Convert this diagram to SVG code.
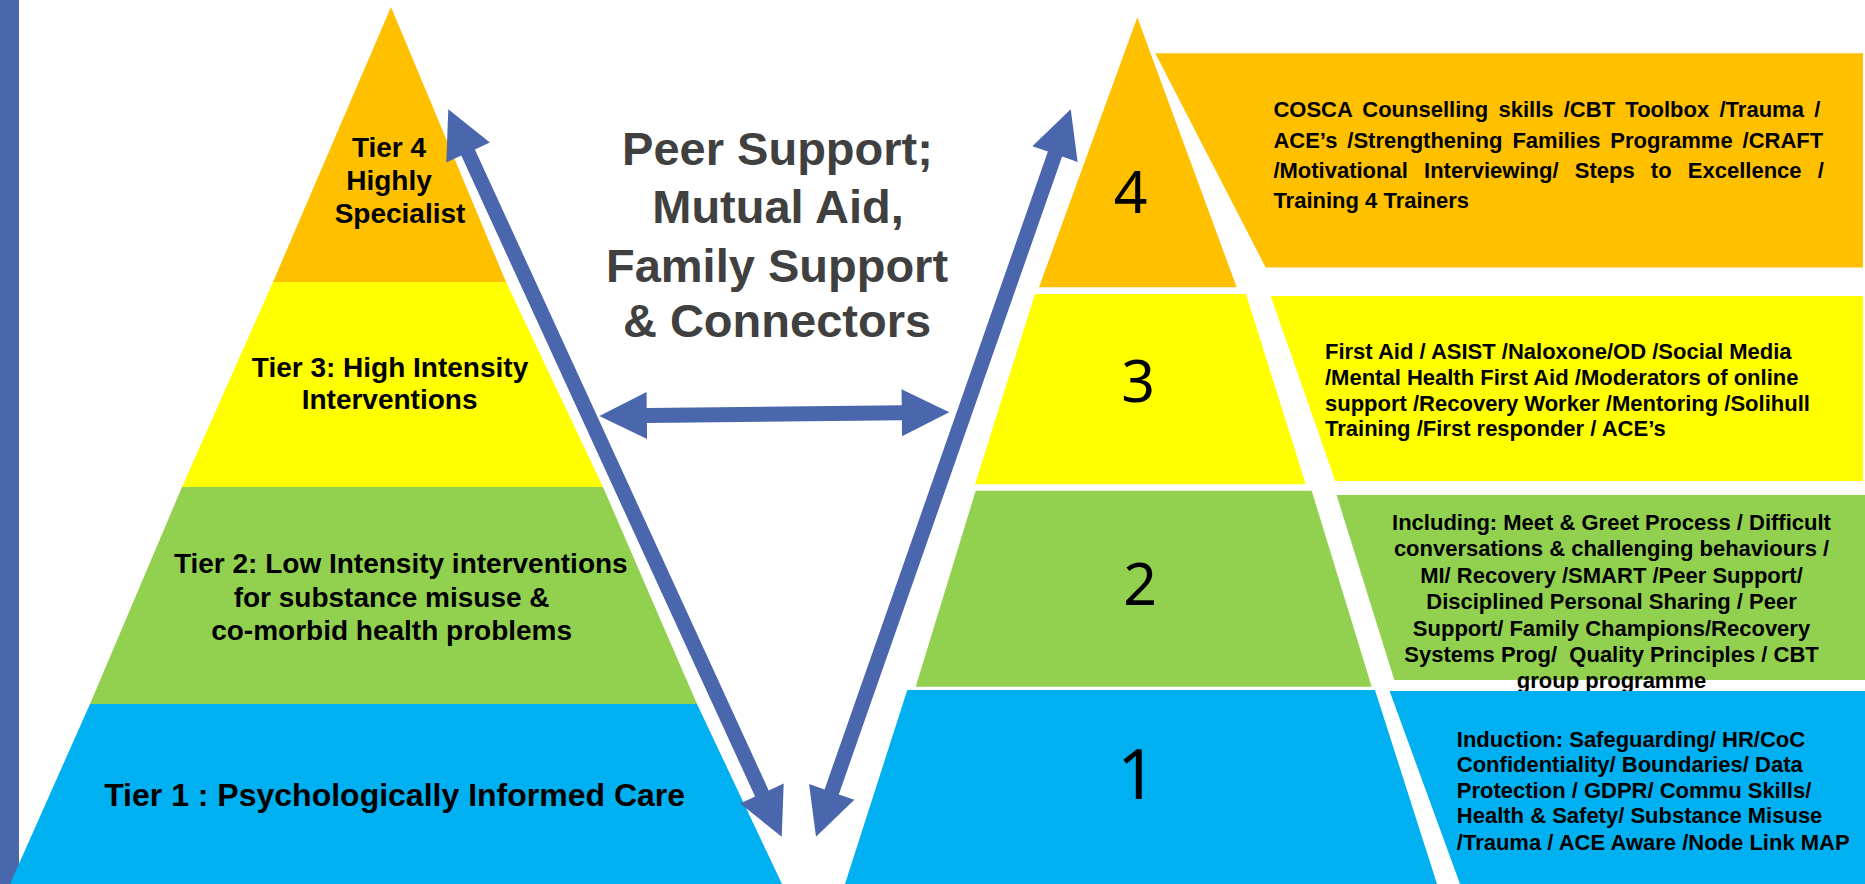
<svg xmlns="http://www.w3.org/2000/svg" width="1865" height="884" viewBox="0 0 1865 884">
<style>
.t{font-family:"Liberation Sans",Arial,sans-serif;font-weight:bold;fill:#000}
.lt{font-size:28px;text-anchor:middle}
.big{font-size:32px;text-anchor:middle}
.bx{font-size:22px}
.mid{text-anchor:middle}
.title{font-size:47px;fill:#404040;text-anchor:middle}
.num{font-family:"Noto Sans","Open Sans",sans-serif;font-size:59px;fill:#000;text-anchor:middle}
.c4{fill:#FFC000}.c3{fill:#FFFF00}.c2{fill:#92D050}.c1{fill:#00B0F0}
.arrow{fill:#4A67AD}
</style>
<g id="sidebar"><rect x="0" y="0" width="19" height="884" class="arrow"/></g>

<g id="left-tier4">
<polygon class="c4" points="391,7 506,282 273,282"/>
<text class="t lt" x="389" y="156.7">Tier 4</text>
<text class="t lt" x="389" y="190">Highly</text>
<text class="t lt" x="400" y="223.3">Specialist</text>
</g>
<g id="left-tier3">
<polygon class="c3" points="273,282 506,282 603,487 182,487"/>
<text class="t lt" x="390" y="376.7">Tier 3: High Intensity</text>
<text class="t lt" x="389.6" y="409">Interventions</text>
</g>
<g id="left-tier2">
<polygon class="c2" points="182,487 603,487 697,704 90,704"/>
<text class="t lt" x="400.8" y="572.5">Tier 2: Low Intensity interventions</text>
<text class="t lt" x="391.6" y="606.5">for substance misuse &amp;</text>
<text class="t lt" x="391.6" y="639.5">co-morbid health problems</text>
</g>
<g id="left-tier1">
<polygon class="c1" points="90,704 697,704 782,884 10,884"/>
<text class="t big" x="394.6" y="806">Tier 1 : Psychologically Informed Care</text>
</g>

<g id="title">
<text class="t title" x="777.5" y="165">Peer Support;</text>
<text class="t title" x="778" y="222.7">Mutual Aid,</text>
<text class="t title" x="777" y="281.7">Family Support</text>
<text class="t title" x="777" y="337">&amp; Connectors</text>
</g>

<g id="right-tier4">
<polygon class="c4" points="1137.3,17.3 1236.7,287.3 1039,287.3"/>
<text class="num" x="1130.5" y="213.3">4</text>
</g>
<g id="right-tier3">
<polygon class="c3" points="1035,294 1246,294 1305.7,484.3 975,484.3"/>
<text class="num" x="1138" y="401.7">3</text>
</g>
<g id="right-tier2">
<polygon class="c2" points="975.7,490.7 1311.7,490.7 1371.7,686.7 915.7,686.7"/>
<text class="num" x="1140" y="605">2</text>
</g>
<g id="right-tier1">
<polygon class="c1" points="907.3,690 1375,690 1437,884 845,884"/>
<text class="num" x="1137" y="799.3" style="font-size:69px">1</text>
</g>

<g id="box4">
<polygon class="c4" points="1155.3,53.3 1863,53.3 1863,267.5 1265.7,267.5"/>
<text class="t bx" x="1273.4" y="117" word-spacing="4.15">COSCA Counselling skills /CBT Toolbox /Trauma /</text>
<text class="t bx" x="1273.4" y="147.5" word-spacing="3.8">ACE’s /Strengthening Families Programme /CRAFT</text>
<text class="t bx" x="1273.4" y="178" word-spacing="10.1">/Motivational Interviewing/ Steps to Excellence /</text>
<text class="t bx" x="1273.4" y="207.5">Training 4 Trainers</text>
</g>
<g id="box3">
<polygon class="c3" points="1270.7,296 1863,296 1863,481 1335.2,481"/>
<text class="t bx" x="1325" y="359.3">First Aid / ASIST /Naloxone/OD /Social Media</text>
<text class="t bx" x="1325" y="385">/Mental Health First Aid /Moderators of online</text>
<text class="t bx" x="1325" y="410.5">support /Recovery Worker /Mentoring /Solihull</text>
<text class="t bx" x="1325" y="436.3">Training /First responder / ACE’s</text>
</g>
<g id="box2">
<polygon class="c2" points="1336.6,495 1865,495 1865,680 1394.3,680"/>
<text class="t bx mid" x="1611.5" y="530">Including: Meet &amp; Greet Process / Difficult</text>
<text class="t bx mid" x="1611.5" y="556.3">conversations &amp; challenging behaviours /</text>
<text class="t bx mid" x="1611.5" y="582.7">MI/ Recovery /SMART /Peer Support/</text>
<text class="t bx mid" x="1611.5" y="609">Disciplined Personal Sharing / Peer</text>
<text class="t bx mid" x="1611.5" y="635.5">Support/ Family Champions/Recovery</text>
<text class="t bx mid" x="1611.5" y="662">Systems Prog/ &#160;Quality Principles / CBT</text>
<text class="t bx mid" x="1611.5" y="688.3">group programme</text>
</g>
<g id="box1">
<polygon class="c1" points="1389.6,691 1865,691 1865,884 1460,884"/>
<text class="t bx" x="1456.8" y="746.8">Induction: Safeguarding/ HR/CoC</text>
<text class="t bx" x="1456.8" y="772">Confidentiality/ Boundaries/ Data</text>
<text class="t bx" x="1456.8" y="797.5">Protection / GDPR/ Commu Skills/</text>
<text class="t bx" x="1456.8" y="823.3">Health &amp; Safety/ Substance Misuse</text>
<text class="t bx" x="1456.8" y="849.5">/Trauma / ACE Aware /Node Link MAP</text>
</g>

<g id="connectors">
<path class="arrow" d="M448.3,109.3 L489.9,142.5 L474.9,149.4 L768.7,790.4 L783.7,783.5 L781.7,836.7 L740.1,803.5 L755.1,796.6 L461.3,155.6 L446.3,162.5 Z"/>
<path class="arrow" d="M1070.7,109.3 L1077.65,162 L1062.1,156.6 L838.8,794.4 L854.35,799.8 L816,836.7 L809.05,784 L824.6,789.4 L1047.9,151.6 L1032.35,146.2 Z"/>
<path class="arrow" d="M599.3,416 L646.55,392 L646.72,408 L901.72,405.3 L901.55,389.3 L949.3,412.3 L902.05,436.3 L901.88,420.3 L646.88,423 L647.05,439 Z"/>
</g>
</svg>
